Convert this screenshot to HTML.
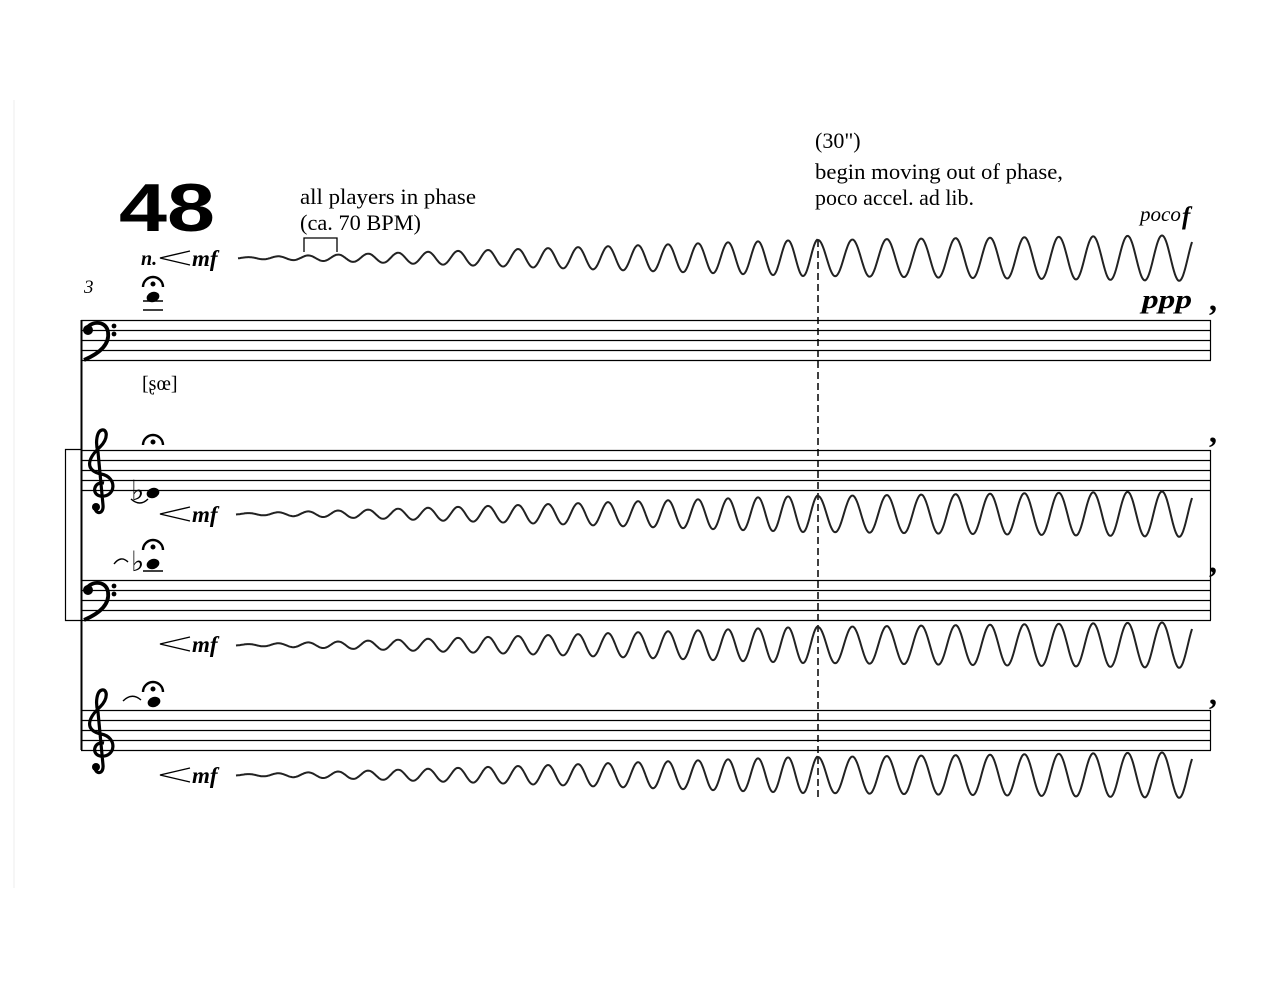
<!DOCTYPE html>
<html><head><meta charset="utf-8"><style>
html,body{margin:0;padding:0;background:#fff}
svg{display:block}
.s{font-family:"Liberation Serif",serif}
.d{font-family:"Liberation Serif",serif;font-style:italic;font-weight:bold}
</style></head><body>
<svg id="sv" width="1280" height="989" viewBox="0 0 1280 989" xmlns="http://www.w3.org/2000/svg">
<line x1="14" y1="100" x2="14" y2="888" stroke="#eee" stroke-width="1"/>
<text x="119" y="231" font-family="Liberation Sans,sans-serif" font-weight="bold" font-size="68" textLength="96" lengthAdjust="spacingAndGlyphs">48</text>
<text x="300" y="204" class="s" font-size="22" textLength="176" lengthAdjust="spacingAndGlyphs">all players in phase</text>
<text x="300" y="230" class="s" font-size="22" textLength="121" lengthAdjust="spacingAndGlyphs">(ca. 70 BPM)</text>
<path d="M304,252 V238 H337 V252" fill="none" stroke="#000" stroke-width="1.3"/>
<text x="815" y="148" class="s" font-size="22">(30")</text>
<text x="815" y="179" class="s" font-size="22" textLength="248" lengthAdjust="spacingAndGlyphs">begin moving out of phase,</text>
<text x="815" y="205" class="s" font-size="22" textLength="159" lengthAdjust="spacingAndGlyphs">poco accel. ad lib.</text>
<text x="1140" y="221" class="s" font-style="italic" font-size="21">poco</text>
<text x="1182" y="224" class="d" font-size="25">f</text>
<text x="1142" y="308" class="d" font-size="26" textLength="50" lengthAdjust="spacingAndGlyphs">ppp</text>
<text x="84" y="293" class="s" font-style="italic" font-size="19">3</text>
<text x="142" y="390" class="s" font-size="20">[ʂœ]</text>
<g font-family="Liberation Serif,serif" font-weight="bold" font-size="32">
<text x="1209" y="310">,</text><text x="1209" y="442">,</text><text x="1209" y="572">,</text><text x="1209" y="704">,</text>
</g>
<line x1="818" y1="240" x2="818" y2="797" stroke="#000" stroke-width="1.5" stroke-dasharray="7,4"/>
<g id="staves" stroke="#000" stroke-width="1.2"></g>
<line x1="81.5" y1="320" x2="81.5" y2="750" stroke="#000" stroke-width="2"/>
<line x1="1210.5" y1="320" x2="1210.5" y2="360" stroke="#000" stroke-width="1.2"/>
<line x1="1210.5" y1="450" x2="1210.5" y2="620" stroke="#000" stroke-width="1.2"/>
<line x1="1210.5" y1="710" x2="1210.5" y2="750" stroke="#000" stroke-width="1.2"/>
<path d="M81,449.5 H65.5 V620.5 H81" fill="none" stroke="#000" stroke-width="1.2"/>
<g id="clefs"></g>
<g id="waves" fill="none" stroke="#222" stroke-width="2"></g>
<g id="dyn"></g>
<g id="notes" fill="#000" stroke="#000"></g>
</svg>
<script>
var NS="http://www.w3.org/2000/svg";
function el(p,t,a,txt){var e=document.createElementNS(NS,t);for(var k in a)e.setAttribute(k,a[k]);if(txt)e.textContent=txt;document.getElementById(p).appendChild(e);return e;}
[320,450,580,710].forEach(function(T){for(var i=0;i<5;i++)el("staves","line",{x1:81,x2:1211,y1:T+i*10+.5,y2:T+i*10+.5});});
function bass(T){el("clefs","path",{d:"M86,"+(T+11)+" C88,"+(T+1)+" 106,"+(T-1)+" 108,"+(T+12)+" C110,"+(T+25)+" 98,"+(T+34)+" 84,"+(T+40),fill:"none",stroke:"#000","stroke-width":3.8});
el("clefs","circle",{cx:88,cy:T+10,r:5});el("clefs","circle",{cx:114,cy:T+6,r:2.4});el("clefs","circle",{cx:114,cy:T+14,r:2.4});}
function treble(T){el("clefs","path",{d:"M104,"+(T+33)+" C94,"+(T+31)+" 91,"+(T+44)+" 100,"+(T+46)+" C116,"+(T+48)+" 118,"+(T+27)+" 101,"+(T+24)+" C84,"+(T+20)+" 88,"+(T+8)+" 100,"+(T-3)+" C109,"+(T-12)+" 107,"+(T-21)+" 102,"+(T-20)+" C97,"+(T-19)+" 95,"+(T-8)+" 98,"+(T+2)+" L103,"+(T+55)+" C104,"+(T+64)+" 96,"+(T+65)+" 95,"+(T+58),fill:"none",stroke:"#000","stroke-width":3.2});
el("clefs","circle",{cx:96,cy:T+57,r:4});}
bass(320);treble(450);bass(580);treble(710);
function wave(cy,start){var d="",x;
for(x=start;x<=1192;x+=1){var a,ph;
if(x<818){var t=(x-start)/(818-start);a=18*Math.pow(t,1.05)+0.6;ph=2*Math.PI*(x-818)/30;}
else{a=18+5*(x-818)/374;ph=2*Math.PI*(x-818)/34.4;}
var y=cy-a*Math.cos(ph);d+=(x==start?"M":"L")+x+","+y.toFixed(1);}
el("waves","path",{d:d});}
wave(258,238);wave(514,236);wave(645,236);wave(775,236);
function dyn(y,n){var x0=160;if(n){el("dyn","text",{x:141,y:y+7,"class":"d","font-size":20},"n.");}
el("dyn","path",{d:"M"+(x0+30)+","+(y-7)+" L"+x0+","+y+" L"+(x0+30)+","+(y+7),fill:"none",stroke:"#000","stroke-width":1.4});
el("dyn","text",{x:192,y:y+8,"class":"d","font-size":23},"mf");}
dyn(258,true);dyn(514);dyn(644);dyn(775);
function ferm(x,y){el("notes","path",{d:"M"+(x-10)+","+y+" A10,10 0 0 1 "+(x+10)+","+y,fill:"none","stroke-width":2.4});el("notes","circle",{cx:x,cy:y-3,r:2});}
function head(x,y){el("notes","ellipse",{cx:x,cy:y,rx:6.5,ry:5,transform:"rotate(-20 "+x+" "+y+")",stroke:"none"});}
function flat(x,y){el("notes","text",{x:x,y:y,"font-family":"DejaVu Sans,sans-serif","font-size":28,stroke:"none"},"♭");}
ferm(153,287);head(153,297);el("notes","line",{x1:143,x2:163,y1:310,y2:310,"stroke-width":1.5});el("notes","line",{x1:143,x2:163,y1:301,y2:301,"stroke-width":1.5});
ferm(153,445);flat(131,500);head(153,493);el("notes","path",{d:"M131,499 Q140,507 148,499",fill:"none","stroke-width":1.4});
ferm(153,550);flat(131,571);head(153,564);el("notes","line",{x1:143,x2:163,y1:571,y2:571,"stroke-width":1.5});el("notes","path",{d:"M114,564 Q121,555 128,562",fill:"none","stroke-width":1.4});
ferm(153,692);head(154,702);el("notes","path",{d:"M123,701 Q132,692 141,700",fill:"none","stroke-width":1.4});
</script>
</body></html>
